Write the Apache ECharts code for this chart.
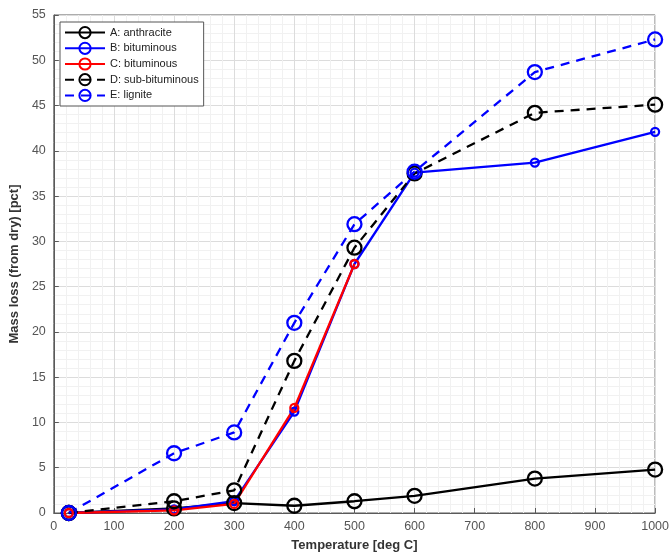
<!DOCTYPE html>
<html><head><meta charset="utf-8">
<script src="https://cdn.jsdelivr.net/npm/echarts@6/dist/echarts.min.js"></script>
<style>html,body{margin:0;padding:0;background:#fff}#c{width:672px;height:557px}</style>
</head><body><div id="c"></div>
<script>
const temps = [25, 200, 300, 400, 500, 600, 800, 1000];
const aAnthracite = [0, 0.5, 1.1, 0.8, 1.3, 1.9, 3.8, 4.8];
const bBituminous = [0, 0.4, 1.3, 11.2, 27.5, 37.6, 38.7, 42.1];
const cTemps = [25, 200, 300, 400, 500];
const cBituminous = [0, 0.3, 1.0, 11.6, 27.5];
const dSubBituminous = [0, 1.3, 2.5, 16.8, 29.3, 37.5, 44.2, 45.1];
const eLignite = [0, 6.6, 8.9, 21.0, 31.9, 37.7, 48.7, 52.3];
const seriesNames = ['A: anthracite', 'B: bituminous', 'C: bituminous', 'D: sub-bituminous', 'E: lignite'];

const pair = (xs, ys) => xs.map((x, i) => [x, ys[i]]);
function mk(name, xs, ys, color, dashed, size) {
  return {
    name, type: 'line', data: pair(xs, ys),
    symbol: 'circle', symbolSize: size,
    lineStyle: { color, width: 2.3, type: dashed ? [9, 7] : 'solid' },
    itemStyle: { color: 'rgba(255,255,255,0)', borderColor: color, borderWidth: 2.3 },
    emphasis: { disabled: true }, animation: false
  };
}
const chart = echarts.init(document.getElementById('c'), null, { renderer: 'canvas' });
const axisCol = '#5a5a5a';
const fmt = v => String(v);
chart.setOption({
  animation: false,
  grid: { left: 52, right: 14, top: 15, bottom: 44, show: true, borderColor: axisCol, borderWidth: 1 },
  legend: {
    orient: 'vertical', left: 60, top: 22, padding: [4, 5, 4, 4], itemGap: 2.5,
    itemWidth: 40, itemHeight: 14,
    backgroundColor: '#fff', borderColor: '#555', borderWidth: 1,
    textStyle: { fontFamily: 'Liberation Sans', fontSize: 11, color: '#222' },
    data: seriesNames
  },
  xAxis: {
    type: 'value', min: 0, max: 1000, interval: 100,
    name: 'Temperature [deg C]', nameLocation: 'middle', nameGap: 26,
    nameTextStyle: { fontFamily: 'Liberation Sans', fontWeight: 'bold', fontSize: 13, color: '#333' },
    axisLine: { show: true, lineStyle: { color: axisCol } },
    axisTick: { show: true, inside: true, length: 5, lineStyle: { color: axisCol } },
    axisLabel: { fontFamily: 'Liberation Sans', fontSize: 12.5, color: '#555', margin: 7, formatter: fmt },
    splitLine: { show: true, lineStyle: { color: '#dcdcdc', width: 1 } },
    minorTick: { show: false, splitNumber: 5 },
    minorSplitLine: { show: true, lineStyle: { color: '#f1f1f1', width: 1 } }
  },
  yAxis: {
    type: 'value', min: 0, max: 55, interval: 5,
    name: 'Mass loss (from dry) [pct]', nameLocation: 'middle', nameGap: 20,
    nameTextStyle: { fontFamily: 'Liberation Sans', fontWeight: 'bold', fontSize: 13, color: '#333' },
    axisLine: { show: true, lineStyle: { color: axisCol } },
    axisTick: { show: true, inside: true, length: 5, lineStyle: { color: axisCol } },
    axisLabel: { fontFamily: 'Liberation Sans', fontSize: 12.5, color: '#555', margin: 8, formatter: fmt },
    splitLine: { show: true, lineStyle: { color: '#dcdcdc', width: 1 } },
    minorTick: { show: false, splitNumber: 5 },
    minorSplitLine: { show: true, lineStyle: { color: '#f1f1f1', width: 1 } }
  },
  series: [
    mk(seriesNames[0], temps, aAnthracite, '#000000', false, 14),
    mk(seriesNames[1], temps, bBituminous, '#0000ff', false, 8),
    mk(seriesNames[2], cTemps, cBituminous, '#ff0000', false, 8),
    mk(seriesNames[3], temps, dSubBituminous, '#000000', true, 14),
    mk(seriesNames[4], temps, eLignite, '#0000ff', true, 14)
  ]
});
</script></body></html>
